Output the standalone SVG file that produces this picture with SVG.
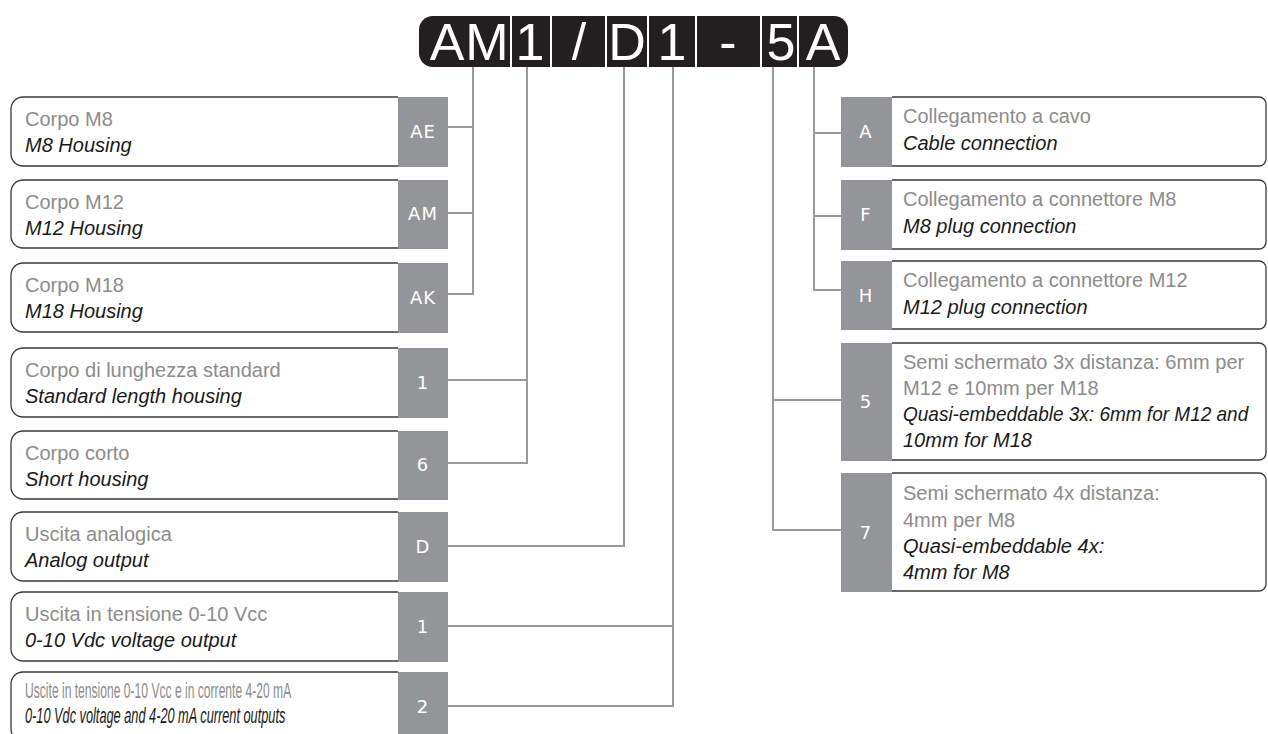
<svg xmlns="http://www.w3.org/2000/svg" width="1268" height="734" viewBox="0 0 1268 734">
<style>
.box{fill:#fff;stroke:#3a3a3a;stroke-width:1.3}
.tag{fill:#939598}
.tt{font-family:"DejaVu Sans",sans-serif;font-size:18px;fill:#fff;text-anchor:middle;letter-spacing:1px}
.it{font-family:"Liberation Sans",Arial,sans-serif;font-size:20px;fill:#8c8c8c}
.en{font-family:"Liberation Sans",Arial,sans-serif;font-size:20px;font-style:italic;fill:#1a1a1a}
.seg{fill:#231f20}
.hd{font-family:"Liberation Sans",Arial,sans-serif;font-size:52px;fill:#fff;text-anchor:middle}
.conn{fill:none;stroke:#9a9a9a;stroke-width:2}
</style>
<g id="header">
<path class="seg" d="M433,16 H510 V67 H433 A14,14 0 0 1 419,53 V30 A14,14 0 0 1 433,16 Z"/>
<rect class="seg" x="512" y="16" width="38" height="51"/>
<rect class="seg" x="552" y="16" width="53" height="51"/>
<rect class="seg" x="607" y="16" width="40" height="51"/>
<rect class="seg" x="649" y="16" width="46" height="51"/>
<rect class="seg" x="697" y="16" width="63" height="51"/>
<rect class="seg" x="762" y="16" width="35" height="51"/>
<path class="seg" d="M799,16 H834 A14,14 0 0 1 848,30 V53 A14,14 0 0 1 834,67 H799 Z"/>
<text class="hd" x="447" y="60">A</text>
<text class="hd" x="487" y="60">M</text>
<text class="hd" x="530" y="60">1</text>
<text class="hd" x="579" y="60">/</text>
<text class="hd" x="627" y="60">D</text>
<text class="hd" x="672" y="60">1</text>
<text class="hd" x="728" y="60">-</text>
<text class="hd" x="781" y="60">5</text>
<text class="hd" x="823" y="60">A</text>
</g>
<g id="connectors">
<path class="conn" d="M448,127 H473 M448,213 H473 M448,294 H473 V67"/>
<path class="conn" d="M448,380 H527 M448,463 H527 V67"/>
<path class="conn" d="M448,546 H624 V67"/>
<path class="conn" d="M448,626 H673 M448,706 H673 V67"/>
<path class="conn" d="M841,133 H814 M841,216 H814 M841,290 H814 V67"/>
<path class="conn" d="M841,400 H773 M841,530 H773 V67"/>
</g>
<g id="n-AE">
<path class="box" d="M398,97 H23 A12,12 0 0 0 11,109 V154 A12,12 0 0 0 23,166 H398"/>
<rect class="tag" x="398" y="97" width="50" height="70"/>
<text class="tt" x="423" y="138">AE</text>
<text class="it" x="25" y="126">Corpo M8</text>
<text class="en" x="25" y="152">M8 Housing</text>
</g>
<g id="n-AM">
<path class="box" d="M398,180 H23 A12,12 0 0 0 11,192 V236 A12,12 0 0 0 23,248 H398"/>
<rect class="tag" x="398" y="180" width="50" height="69"/>
<text class="tt" x="423" y="220">AM</text>
<text class="it" x="25" y="209">Corpo M12</text>
<text class="en" x="25" y="235">M12 Housing</text>
</g>
<g id="n-AK">
<path class="box" d="M398,263 H23 A12,12 0 0 0 11,275 V320 A12,12 0 0 0 23,332 H398"/>
<rect class="tag" x="398" y="263" width="50" height="70"/>
<text class="tt" x="423" y="304">AK</text>
<text class="it" x="25" y="292">Corpo M18</text>
<text class="en" x="25" y="318">M18 Housing</text>
</g>
<g id="n-L1">
<path class="box" d="M398,348 H23 A12,12 0 0 0 11,360 V405 A12,12 0 0 0 23,417 H398"/>
<rect class="tag" x="398" y="348" width="50" height="70"/>
<text class="tt" x="423" y="389">1</text>
<text class="it" x="25" y="377">Corpo di lunghezza standard</text>
<text class="en" x="25" y="403">Standard length housing</text>
</g>
<g id="n-L6">
<path class="box" d="M398,431 H23 A12,12 0 0 0 11,443 V487 A12,12 0 0 0 23,499 H398"/>
<rect class="tag" x="398" y="431" width="50" height="69"/>
<text class="tt" x="423" y="471">6</text>
<text class="it" x="25" y="460">Corpo corto</text>
<text class="en" x="25" y="486">Short housing</text>
</g>
<g id="n-D">
<path class="box" d="M398,512 H23 A12,12 0 0 0 11,524 V569 A12,12 0 0 0 23,581 H398"/>
<rect class="tag" x="398" y="512" width="50" height="70"/>
<text class="tt" x="423" y="553">D</text>
<text class="it" x="25" y="541">Uscita analogica</text>
<text class="en" x="25" y="567">Analog output</text>
</g>
<g id="n-O1">
<path class="box" d="M398,592 H23 A12,12 0 0 0 11,604 V649 A12,12 0 0 0 23,661 H398"/>
<rect class="tag" x="398" y="592" width="50" height="70"/>
<text class="tt" x="423" y="633">1</text>
<text class="it" x="25" y="621">Uscita in tensione 0-10 Vcc</text>
<text class="en" x="25" y="647">0-10 Vdc voltage output</text>
</g>
<g id="n-O2">
<path class="box" d="M398,672 H23 A12,12 0 0 0 11,684 V729 A12,12 0 0 0 23,741 H398"/>
<rect class="tag" x="398" y="672" width="50" height="62"/>
<text class="tt" x="423" y="713">2</text>
<text class="it" transform="translate(25,698) scale(0.55,1)" x="0" y="0" style="font-size:22px">Uscite in tensione 0-10 Vcc e in corrente 4-20 mA</text>
<text class="en" transform="translate(25,723) scale(0.58,1)" x="0" y="0" style="font-size:22px">0-10 Vdc voltage and 4-20 mA current outputs</text>
</g>
<g id="n-A">
<path class="box" d="M892,97 H1259 A7,7 0 0 1 1266,104 V159 A7,7 0 0 1 1259,166 H892"/>
<rect class="tag" x="841" y="97" width="51" height="70"/>
<text class="tt" x="866" y="138">A</text>
<text class="it" x="903" y="123">Collegamento a cavo</text>
<text class="en" x="903" y="150">Cable connection</text>
</g>
<g id="n-F">
<path class="box" d="M892,180 H1259 A7,7 0 0 1 1266,187 V242 A7,7 0 0 1 1259,249 H892"/>
<rect class="tag" x="841" y="180" width="51" height="70"/>
<text class="tt" x="866" y="221">F</text>
<text class="it" x="903" y="206">Collegamento a connettore M8</text>
<text class="en" x="903" y="233">M8 plug connection</text>
</g>
<g id="n-H">
<path class="box" d="M892,261 H1259 A7,7 0 0 1 1266,268 V322 A7,7 0 0 1 1259,329 H892"/>
<rect class="tag" x="841" y="261" width="51" height="69"/>
<text class="tt" x="866" y="302">H</text>
<text class="it" x="903" y="287">Collegamento a connettore M12</text>
<text class="en" x="903" y="314">M12 plug connection</text>
</g>
<g id="n-5">
<path class="box" d="M892,343 H1259 A7,7 0 0 1 1266,350 V453 A7,7 0 0 1 1259,460 H892"/>
<rect class="tag" x="841" y="343" width="51" height="118"/>
<text class="tt" x="866" y="408">5</text>
<text class="it" x="903" y="369">Semi schermato 3x distanza: 6mm per</text>
<text class="it" x="903" y="395">M12 e 10mm per M18</text>
<text class="en" transform="translate(903,421) scale(0.95,1)" x="0" y="0">Quasi-embeddable 3x: 6mm for M12 and</text>
<text class="en" x="903" y="447">10mm for M18</text>
</g>
<g id="n-7">
<path class="box" d="M892,473 H1259 A7,7 0 0 1 1266,480 V584 A7,7 0 0 1 1259,591 H892"/>
<rect class="tag" x="841" y="473" width="51" height="119"/>
<text class="tt" x="866" y="539">7</text>
<text class="it" x="903" y="500">Semi schermato 4x distanza:</text>
<text class="it" x="903" y="527">4mm per M8</text>
<text class="en" x="903" y="553">Quasi-embeddable 4x:</text>
<text class="en" x="903" y="579">4mm for M8</text>
</g>
</svg>
